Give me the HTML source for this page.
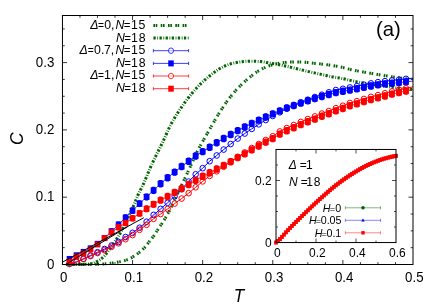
<!DOCTYPE html>
<html><head><meta charset="utf-8"><title>Specific heat C(T)</title>
<style>html,body{margin:0;padding:0;background:#fff;}body{width:436px;height:305px;overflow:hidden;font-family:"Liberation Sans",sans-serif;}</style>
</head><body>
<svg width="436" height="305" viewBox="0 0 436 305" style="display:block;will-change:transform">
<rect width="436" height="305" fill="#fff"/>
<g font-family="Liberation Sans, sans-serif" fill="#000">
<path d="M65.96,264.50 L67.12,264.50 L68.28,264.50 L69.44,264.50 L70.60,264.50 L71.76,264.49 L72.92,264.49 L74.08,264.49 L75.24,264.48 L76.40,264.48 L77.56,264.48 L78.72,264.47 L79.88,264.46 L81.04,264.46 L82.21,264.45 L83.37,264.44 L84.53,264.43 L85.69,264.43 L86.85,264.42 L88.01,264.41 L89.17,264.40 L90.33,264.38 L91.49,264.37 L92.65,264.36 L93.81,264.35 L94.97,264.33 L96.13,264.32 L97.29,264.30 L98.45,264.28 L99.62,264.23 L100.78,264.17 L101.94,264.09 L103.10,264.00 L104.26,263.90 L105.42,263.80 L106.58,263.70 L107.74,263.59 L108.90,263.47 L110.06,263.33 L111.22,263.19 L112.38,263.03 L113.54,262.86 L114.70,262.68 L115.86,262.49 L117.03,262.29 L118.19,262.08 L119.35,261.85 L120.51,261.60 L121.67,261.33 L122.83,261.04 L123.99,260.72 L125.15,260.38 L126.31,260.00 L127.47,259.60 L128.63,259.17 L129.79,258.67 L130.95,258.06 L132.11,257.36 L133.28,256.61 L134.44,255.83 L135.60,255.04 L136.76,254.25 L137.92,253.43 L139.08,252.56 L140.24,251.64 L141.40,250.66 L142.56,249.59 L143.72,248.44 L144.88,247.21 L146.04,245.87 L147.20,244.38 L148.36,242.82 L149.52,241.25 L150.69,239.76 L151.85,238.33 L153.01,236.89 L154.17,235.38 L155.33,233.71 L156.49,231.80 L157.65,229.85 L158.81,228.06 L159.97,226.42 L161.13,224.76 L162.29,222.98 L163.45,221.15 L164.61,219.26 L165.77,217.30 L166.94,215.27 L168.10,213.14 L169.26,210.94 L170.42,208.67 L171.58,206.33 L172.74,203.95 L173.90,201.53 L175.06,199.08 L176.22,196.61 L177.38,194.13 L178.54,191.65 L179.70,189.17 L180.86,186.71 L182.02,184.28 L183.18,181.84 L184.35,179.40 L185.51,176.94 L186.67,174.47 L187.83,172.00 L188.99,169.51 L190.15,167.00 L191.31,164.44 L192.47,161.82 L193.63,159.19 L194.79,156.58 L195.95,154.05 L197.11,151.64 L198.27,149.37 L199.43,147.22 L200.59,145.14 L201.76,143.12 L202.92,141.10 L204.08,139.07 L205.24,137.01 L206.40,134.97 L207.56,132.93 L208.72,130.89 L209.88,128.87 L211.04,126.86 L212.20,124.87 L213.36,122.89 L214.52,120.90 L215.68,118.92 L216.84,116.96 L218.01,115.02 L219.17,113.13 L220.33,111.29 L221.49,109.50 L222.65,107.74 L223.81,106.00 L224.97,104.29 L226.13,102.61 L227.29,100.98 L228.45,99.39 L229.61,97.86 L230.77,96.38 L231.93,94.95 L233.09,93.56 L234.25,92.20 L235.42,90.88 L236.58,89.59 L237.74,88.34 L238.90,87.13 L240.06,85.95 L241.22,84.81 L242.38,83.69 L243.54,82.61 L244.70,81.55 L245.86,80.52 L247.02,79.52 L248.18,78.55 L249.34,77.60 L250.50,76.68 L251.66,75.78 L252.83,74.88 L253.99,74.00 L255.15,73.15 L256.31,72.33 L257.47,71.54 L258.63,70.81 L259.79,70.13 L260.95,69.50 L262.11,68.89 L263.27,68.30 L264.43,67.74 L265.59,67.20 L266.75,66.70 L267.91,66.24 L269.08,65.81 L270.24,65.43 L271.40,65.08 L272.56,64.75 L273.72,64.43 L274.88,64.13 L276.04,63.86 L277.20,63.60 L278.36,63.37 L279.52,63.17 L280.68,63.00 L281.84,62.84 L283.00,62.68 L284.16,62.52 L285.32,62.38 L286.49,62.25 L287.65,62.14 L288.81,62.06 L289.97,62.01 L291.13,61.99 L292.29,61.99 L293.45,61.99 L294.61,61.99 L295.77,61.99 L296.93,61.99 L298.09,61.99 L299.25,61.99 L300.41,61.99 L301.57,62.00 L302.74,62.03 L303.90,62.11 L305.06,62.22 L306.22,62.35 L307.38,62.49 L308.54,62.64 L309.70,62.79 L310.86,62.93 L312.02,63.05 L313.18,63.17 L314.34,63.28 L315.50,63.40 L316.66,63.51 L317.82,63.63 L318.98,63.75 L320.15,63.88 L321.31,64.01 L322.47,64.14 L323.63,64.29 L324.79,64.43 L325.95,64.59 L327.11,64.74 L328.27,64.91 L329.43,65.07 L330.59,65.24 L331.75,65.42 L332.91,65.60 L334.07,65.78 L335.23,65.98 L336.39,66.17 L337.56,66.38 L338.72,66.60 L339.88,66.83 L341.04,67.08 L342.20,67.35 L343.36,67.63 L344.52,67.93 L345.68,68.23 L346.84,68.53 L348.00,68.84 L349.16,69.14 L350.32,69.43 L351.48,69.70 L352.64,69.96 L353.81,70.20 L354.97,70.44 L356.13,70.67 L357.29,70.89 L358.45,71.12 L359.61,71.33 L360.77,71.54 L361.93,71.75 L363.09,71.96 L364.25,72.16 L365.41,72.36 L366.57,72.57 L367.73,72.77 L368.89,72.97 L370.05,73.17 L371.22,73.37 L372.38,73.57 L373.54,73.77 L374.70,73.97 L375.86,74.17 L377.02,74.37 L378.18,74.56 L379.34,74.76 L380.50,74.95 L381.66,75.14 L382.82,75.33 L383.98,75.52 L385.14,75.71 L386.30,75.89 L387.46,76.08 L388.63,76.26 L389.79,76.44 L390.95,76.62 L392.11,76.79 L393.27,76.97 L394.43,77.14 L395.59,77.32 L396.75,77.49 L397.91,77.66 L399.07,77.83 L400.23,78.00 L401.39,78.17 L402.55,78.33 L403.71,78.50 L404.88,78.66 L406.04,78.82 L407.20,78.98 L408.36,79.14 L409.52,79.30 L410.68,79.45 L411.84,79.61 L413.00,79.76" fill="none" stroke="#006400" stroke-width="3.0" stroke-dasharray="1.6 0.7 1.6 3.4"/>
<path d="M65.96,264.50 L67.12,264.50 L68.28,264.50 L69.44,264.49 L70.60,264.49 L71.76,264.49 L72.92,264.48 L74.08,264.47 L75.24,264.46 L76.40,264.45 L77.56,264.44 L78.72,264.43 L79.88,264.42 L81.04,264.40 L82.21,264.38 L83.37,264.37 L84.53,264.34 L85.69,264.29 L86.85,264.21 L88.01,264.11 L89.17,263.99 L90.33,263.84 L91.49,263.67 L92.65,263.48 L93.81,263.11 L94.97,262.54 L96.13,261.90 L97.29,261.28 L98.45,260.61 L99.62,259.88 L100.78,259.09 L101.94,258.21 L103.10,257.20 L104.26,256.02 L105.42,254.73 L106.58,253.36 L107.74,251.87 L108.90,250.25 L110.06,248.57 L111.22,246.86 L112.38,245.16 L113.54,243.50 L114.70,241.83 L115.86,240.14 L117.03,238.40 L118.19,236.60 L119.35,234.71 L120.51,232.70 L121.67,230.58 L122.83,228.38 L123.99,226.11 L125.15,223.80 L126.31,221.44 L127.47,219.04 L128.63,216.58 L129.79,214.08 L130.95,211.54 L132.11,208.96 L133.28,206.34 L134.44,203.69 L135.60,200.90 L136.76,197.98 L137.92,195.15 L139.08,192.63 L140.24,190.35 L141.40,188.15 L142.56,185.86 L143.72,183.36 L144.88,180.70 L146.04,177.94 L147.20,175.13 L148.36,172.32 L149.52,169.55 L150.69,166.87 L151.85,164.31 L153.01,161.83 L154.17,159.41 L155.33,157.03 L156.49,154.68 L157.65,152.35 L158.81,150.03 L159.97,147.70 L161.13,145.36 L162.29,142.98 L163.45,140.56 L164.61,138.08 L165.77,135.48 L166.94,132.83 L168.10,130.20 L169.26,127.67 L170.42,125.33 L171.58,123.16 L172.74,121.08 L173.90,119.08 L175.06,117.14 L176.22,115.27 L177.38,113.44 L178.54,111.65 L179.70,109.89 L180.86,108.16 L182.02,106.47 L183.18,104.80 L184.35,103.17 L185.51,101.58 L186.67,100.02 L187.83,98.50 L188.99,97.01 L190.15,95.56 L191.31,94.14 L192.47,92.74 L193.63,91.36 L194.79,90.02 L195.95,88.70 L197.11,87.42 L198.27,86.18 L199.43,84.99 L200.59,83.83 L201.76,82.72 L202.92,81.63 L204.08,80.58 L205.24,79.56 L206.40,78.56 L207.56,77.59 L208.72,76.64 L209.88,75.71 L211.04,74.80 L212.20,73.90 L213.36,73.00 L214.52,72.11 L215.68,71.26 L216.84,70.43 L218.01,69.66 L219.17,68.93 L220.33,68.27 L221.49,67.65 L222.65,67.05 L223.81,66.48 L224.97,65.93 L226.13,65.42 L227.29,64.94 L228.45,64.51 L229.61,64.13 L230.77,63.81 L231.93,63.51 L233.09,63.23 L234.25,62.97 L235.42,62.74 L236.58,62.52 L237.74,62.32 L238.90,62.14 L240.06,61.99 L241.22,61.86 L242.38,61.72 L243.54,61.59 L244.70,61.47 L245.86,61.36 L247.02,61.27 L248.18,61.19 L249.34,61.14 L250.50,61.12 L251.66,61.13 L252.83,61.15 L253.99,61.18 L255.15,61.23 L256.31,61.29 L257.47,61.36 L258.63,61.43 L259.79,61.51 L260.95,61.60 L262.11,61.74 L263.27,61.91 L264.43,62.11 L265.59,62.32 L266.75,62.55 L267.91,62.77 L269.08,63.00 L270.24,63.20 L271.40,63.40 L272.56,63.59 L273.72,63.79 L274.88,63.98 L276.04,64.18 L277.20,64.39 L278.36,64.59 L279.52,64.81 L280.68,65.03 L281.84,65.26 L283.00,65.51 L284.16,65.75 L285.32,66.01 L286.49,66.27 L287.65,66.53 L288.81,66.80 L289.97,67.07 L291.13,67.34 L292.29,67.61 L293.45,67.89 L294.61,68.17 L295.77,68.45 L296.93,68.74 L298.09,69.03 L299.25,69.31 L300.41,69.60 L301.57,69.88 L302.74,70.16 L303.90,70.45 L305.06,70.74 L306.22,71.02 L307.38,71.31 L308.54,71.59 L309.70,71.86 L310.86,72.13 L312.02,72.40 L313.18,72.65 L314.34,72.91 L315.50,73.15 L316.66,73.40 L317.82,73.64 L318.98,73.88 L320.15,74.13 L321.31,74.38 L322.47,74.63 L323.63,74.89 L324.79,75.16 L325.95,75.43 L327.11,75.70 L328.27,75.97 L329.43,76.23 L330.59,76.47 L331.75,76.71 L332.91,76.92 L334.07,77.12 L335.23,77.30 L336.39,77.48 L337.56,77.66 L338.72,77.86 L339.88,78.06 L341.04,78.29 L342.20,78.53 L343.36,78.78 L344.52,79.03 L345.68,79.29 L346.84,79.56 L348.00,79.83 L349.16,80.09 L350.32,80.36 L351.48,80.61 L352.64,80.86 L353.81,81.11 L354.97,81.36 L356.13,81.60 L357.29,81.85 L358.45,82.09 L359.61,82.32 L360.77,82.55 L361.93,82.76 L363.09,82.96 L364.25,83.16 L365.41,83.36 L366.57,83.55 L367.73,83.74 L368.89,83.93 L370.05,84.11 L371.22,84.29 L372.38,84.47 L373.54,84.65 L374.70,84.82 L375.86,84.99 L377.02,85.16 L378.18,85.33 L379.34,85.49 L380.50,85.66 L381.66,85.82 L382.82,85.98 L383.98,86.14 L385.14,86.30 L386.30,86.45 L387.46,86.61 L388.63,86.76 L389.79,86.91 L390.95,87.07 L392.11,87.22 L393.27,87.37 L394.43,87.52 L395.59,87.67 L396.75,87.82 L397.91,87.96 L399.07,88.11 L400.23,88.25 L401.39,88.39 L402.55,88.53 L403.71,88.67 L404.88,88.81 L406.04,88.94 L407.20,89.08 L408.36,89.21 L409.52,89.34 L410.68,89.47 L411.84,89.60 L413.00,89.72" fill="none" stroke="#006400" stroke-width="3.0" stroke-dasharray="2.3 1.6 0.8 1.4"/>
<path d="M69.46,263.83 L76.47,261.81 L83.48,258.71 L90.49,255.48 L97.50,252.25 L104.52,249.02 L111.53,245.52 L118.54,241.95 L125.55,237.04 L132.56,232.87 L139.57,227.75 L146.58,221.76 L153.59,214.90 L160.60,208.91 L167.62,202.79 L174.63,196.19 L181.64,189.12 L188.65,181.59 L195.66,174.32 L202.67,168.19 L209.68,161.19 L216.69,155.47 L223.70,149.55 L230.71,144.03 L237.73,138.58 L244.74,133.53 L251.75,128.89 L258.76,124.31 L265.77,120.01 L272.78,115.97 L279.79,112.27 L286.80,108.70 L293.81,105.34 L300.82,102.35 L307.83,99.70 L314.85,97.05 L321.86,94.74 L328.87,92.29 L335.88,90.05 L342.89,88.81 L349.90,87.46 L356.91,86.12 L363.92,84.71 L370.93,83.38 L377.94,82.17 L384.96,81.17 L391.97,80.44 L398.98,79.64 L405.99,78.91 L413.00,78.18" fill="none" stroke="#0000ff" stroke-width="1.0"/>
<g fill="none" stroke="#0000ff" stroke-width="1.0"><ellipse cx="69.46" cy="263.83" rx="2.75" ry="2.85"/><ellipse cx="76.47" cy="261.81" rx="2.75" ry="2.85"/><ellipse cx="83.48" cy="258.71" rx="2.75" ry="2.85"/><ellipse cx="90.49" cy="255.48" rx="2.75" ry="2.85"/><ellipse cx="97.50" cy="252.25" rx="2.75" ry="2.85"/><ellipse cx="104.52" cy="249.02" rx="2.75" ry="2.85"/><ellipse cx="111.53" cy="245.52" rx="2.75" ry="2.85"/><ellipse cx="118.54" cy="241.95" rx="2.75" ry="2.85"/><ellipse cx="125.55" cy="237.04" rx="2.75" ry="2.85"/><ellipse cx="132.56" cy="232.87" rx="2.75" ry="2.85"/><ellipse cx="139.57" cy="227.75" rx="2.75" ry="2.85"/><ellipse cx="146.58" cy="221.76" rx="2.75" ry="2.85"/><ellipse cx="153.59" cy="214.90" rx="2.75" ry="2.85"/><ellipse cx="160.60" cy="208.91" rx="2.75" ry="2.85"/><ellipse cx="167.62" cy="202.79" rx="2.75" ry="2.85"/><ellipse cx="174.63" cy="196.19" rx="2.75" ry="2.85"/><ellipse cx="181.64" cy="189.12" rx="2.75" ry="2.85"/><ellipse cx="188.65" cy="181.59" rx="2.75" ry="2.85"/><ellipse cx="195.66" cy="174.32" rx="2.75" ry="2.85"/><ellipse cx="202.67" cy="168.19" rx="2.75" ry="2.85"/><ellipse cx="209.68" cy="161.19" rx="2.75" ry="2.85"/><ellipse cx="216.69" cy="155.47" rx="2.75" ry="2.85"/><ellipse cx="223.70" cy="149.55" rx="2.75" ry="2.85"/><ellipse cx="230.71" cy="144.03" rx="2.75" ry="2.85"/><ellipse cx="237.73" cy="138.58" rx="2.75" ry="2.85"/><ellipse cx="244.74" cy="133.53" rx="2.75" ry="2.85"/><ellipse cx="251.75" cy="128.89" rx="2.75" ry="2.85"/><ellipse cx="258.76" cy="124.31" rx="2.75" ry="2.85"/><ellipse cx="265.77" cy="120.01" rx="2.75" ry="2.85"/><ellipse cx="272.78" cy="115.97" rx="2.75" ry="2.85"/><ellipse cx="279.79" cy="112.27" rx="2.75" ry="2.85"/><ellipse cx="286.80" cy="108.70" rx="2.75" ry="2.85"/><ellipse cx="293.81" cy="105.34" rx="2.75" ry="2.85"/><ellipse cx="300.82" cy="102.35" rx="2.75" ry="2.85"/><ellipse cx="307.83" cy="99.70" rx="2.75" ry="2.85"/><ellipse cx="314.85" cy="97.05" rx="2.75" ry="2.85"/><ellipse cx="321.86" cy="94.74" rx="2.75" ry="2.85"/><ellipse cx="328.87" cy="92.29" rx="2.75" ry="2.85"/><ellipse cx="335.88" cy="90.05" rx="2.75" ry="2.85"/><ellipse cx="342.89" cy="88.81" rx="2.75" ry="2.85"/><ellipse cx="349.90" cy="87.46" rx="2.75" ry="2.85"/><ellipse cx="356.91" cy="86.12" rx="2.75" ry="2.85"/><ellipse cx="363.92" cy="84.71" rx="2.75" ry="2.85"/><ellipse cx="370.93" cy="83.38" rx="2.75" ry="2.85"/><ellipse cx="377.94" cy="82.17" rx="2.75" ry="2.85"/><ellipse cx="384.96" cy="81.17" rx="2.75" ry="2.85"/><ellipse cx="391.97" cy="80.44" rx="2.75" ry="2.85"/><ellipse cx="398.98" cy="79.64" rx="2.75" ry="2.85"/><ellipse cx="405.99" cy="78.91" rx="2.75" ry="2.85"/></g>
<path d="M69.46,258.94 L76.47,255.24 L83.48,251.88 L90.49,248.31 L97.50,243.80 L104.52,238.08 L111.53,231.35 L118.54,224.62 L125.55,217.49 L132.56,210.62 L139.57,203.69 L146.58,196.89 L153.59,190.30 L160.60,183.70 L167.62,177.71 L174.63,172.13 L181.64,166.54 L188.65,161.22 L195.66,155.97 L202.67,151.60 L209.68,147.29 L216.69,142.72 L223.70,138.48 L230.71,134.51 L237.73,130.60 L244.74,126.97 L251.75,123.47 L258.76,120.17 L265.77,117.01 L272.78,113.84 L279.79,110.82 L286.80,107.85 L293.81,105.50 L300.82,103.08 L307.83,100.79 L314.85,98.50 L321.86,96.45 L328.87,94.53 L335.88,92.68 L342.89,91.29 L349.90,90.08 L356.91,88.80 L363.92,87.32 L370.93,86.06 L377.94,84.86 L384.96,83.94 L391.97,83.28 L398.98,82.56 L405.99,81.83 L413.00,81.11" fill="none" stroke="#0000ff" stroke-width="0.75"/>
<g fill="#0000ff"><rect x="66.71" y="255.97" width="5.50" height="5.94" rx="0.00"/><rect x="73.72" y="252.27" width="5.50" height="5.94" rx="0.00"/><rect x="80.73" y="248.91" width="5.50" height="5.94" rx="0.00"/><rect x="87.74" y="245.34" width="5.50" height="5.94" rx="0.00"/><rect x="94.75" y="240.83" width="5.50" height="5.94" rx="0.00"/><rect x="101.77" y="235.11" width="5.50" height="5.94" rx="0.00"/><rect x="108.75" y="228.35" width="5.55" height="5.99" rx="0.10"/><rect x="109.83" y="228.29" width="3.4" height="6.12" rx="0.6"/><rect x="115.74" y="221.60" width="5.60" height="6.05" rx="0.20"/><rect x="116.84" y="221.47" width="3.4" height="6.30" rx="0.6"/><rect x="122.72" y="214.44" width="5.65" height="6.10" rx="0.30"/><rect x="123.85" y="214.25" width="3.4" height="6.48" rx="0.6"/><rect x="129.71" y="207.54" width="5.70" height="6.16" rx="0.40"/><rect x="130.86" y="207.29" width="3.4" height="6.66" rx="0.6"/><rect x="136.70" y="200.58" width="5.75" height="6.21" rx="0.50"/><rect x="137.87" y="200.27" width="3.4" height="6.84" rx="0.6"/><rect x="143.68" y="193.76" width="5.80" height="6.26" rx="0.60"/><rect x="144.88" y="193.39" width="3.4" height="7.01" rx="0.6"/><rect x="150.67" y="187.14" width="5.85" height="6.32" rx="0.70"/><rect x="151.89" y="186.70" width="3.4" height="7.19" rx="0.6"/><rect x="157.65" y="180.52" width="5.90" height="6.37" rx="0.80"/><rect x="158.90" y="180.02" width="3.4" height="7.37" rx="0.6"/><rect x="164.67" y="174.53" width="5.90" height="6.37" rx="0.80"/><rect x="165.92" y="174.03" width="3.4" height="7.37" rx="0.6"/><rect x="171.68" y="168.94" width="5.90" height="6.37" rx="0.80"/><rect x="172.93" y="168.44" width="3.4" height="7.37" rx="0.6"/><rect x="178.69" y="163.35" width="5.90" height="6.37" rx="0.80"/><rect x="179.94" y="162.85" width="3.4" height="7.37" rx="0.6"/><rect x="185.70" y="158.04" width="5.90" height="6.37" rx="0.80"/><rect x="186.95" y="157.54" width="3.4" height="7.37" rx="0.6"/><rect x="192.71" y="152.79" width="5.90" height="6.37" rx="0.80"/><rect x="193.96" y="152.29" width="3.4" height="7.37" rx="0.6"/><rect x="199.72" y="148.41" width="5.90" height="6.37" rx="0.80"/><rect x="200.97" y="147.91" width="3.4" height="7.37" rx="0.6"/><rect x="206.73" y="144.11" width="5.90" height="6.37" rx="0.80"/><rect x="207.98" y="143.61" width="3.4" height="7.37" rx="0.6"/><rect x="213.74" y="139.53" width="5.90" height="6.37" rx="0.80"/><rect x="214.99" y="139.03" width="3.4" height="7.37" rx="0.6"/><rect x="220.75" y="135.29" width="5.90" height="6.37" rx="0.80"/><rect x="222.00" y="134.79" width="3.4" height="7.37" rx="0.6"/><rect x="227.76" y="131.32" width="5.90" height="6.37" rx="0.80"/><rect x="229.01" y="130.82" width="3.4" height="7.37" rx="0.6"/><rect x="234.78" y="127.42" width="5.90" height="6.37" rx="0.80"/><rect x="236.03" y="126.92" width="3.4" height="7.37" rx="0.6"/><rect x="241.79" y="123.78" width="5.90" height="6.37" rx="0.80"/><rect x="243.04" y="123.28" width="3.4" height="7.37" rx="0.6"/><rect x="248.80" y="120.28" width="5.90" height="6.37" rx="0.80"/><rect x="250.05" y="119.78" width="3.4" height="7.37" rx="0.6"/><rect x="255.81" y="116.98" width="5.90" height="6.37" rx="0.80"/><rect x="257.06" y="116.48" width="3.4" height="7.37" rx="0.6"/><rect x="262.82" y="113.82" width="5.90" height="6.37" rx="0.80"/><rect x="264.07" y="113.32" width="3.4" height="7.37" rx="0.6"/><rect x="269.83" y="110.66" width="5.90" height="6.37" rx="0.80"/><rect x="271.08" y="110.16" width="3.4" height="7.37" rx="0.6"/><rect x="276.84" y="107.63" width="5.90" height="6.37" rx="0.80"/><rect x="278.09" y="107.13" width="3.4" height="7.37" rx="0.6"/><rect x="283.85" y="104.67" width="5.90" height="6.37" rx="0.80"/><rect x="285.10" y="104.17" width="3.4" height="7.37" rx="0.6"/><rect x="290.86" y="102.31" width="5.90" height="6.37" rx="0.80"/><rect x="292.11" y="101.81" width="3.4" height="7.37" rx="0.6"/><rect x="297.87" y="99.89" width="5.90" height="6.37" rx="0.80"/><rect x="299.12" y="99.39" width="3.4" height="7.37" rx="0.6"/><rect x="304.88" y="97.60" width="5.90" height="6.37" rx="0.80"/><rect x="306.13" y="97.10" width="3.4" height="7.37" rx="0.6"/><rect x="311.90" y="95.31" width="5.90" height="6.37" rx="0.80"/><rect x="313.15" y="94.81" width="3.4" height="7.37" rx="0.6"/><rect x="318.91" y="93.26" width="5.90" height="6.37" rx="0.80"/><rect x="320.16" y="92.76" width="3.4" height="7.37" rx="0.6"/><rect x="325.92" y="91.34" width="5.90" height="6.37" rx="0.80"/><rect x="327.17" y="90.84" width="3.4" height="7.37" rx="0.6"/><rect x="332.93" y="89.49" width="5.90" height="6.37" rx="0.80"/><rect x="334.18" y="88.99" width="3.4" height="7.37" rx="0.6"/><rect x="339.94" y="88.11" width="5.90" height="6.37" rx="0.80"/><rect x="341.19" y="87.61" width="3.4" height="7.37" rx="0.6"/><rect x="346.95" y="86.90" width="5.90" height="6.37" rx="0.80"/><rect x="348.20" y="86.40" width="3.4" height="7.37" rx="0.6"/><rect x="353.96" y="85.62" width="5.90" height="6.37" rx="0.80"/><rect x="355.21" y="85.12" width="3.4" height="7.37" rx="0.6"/><rect x="360.97" y="84.14" width="5.90" height="6.37" rx="0.80"/><rect x="362.22" y="83.64" width="3.4" height="7.37" rx="0.6"/><rect x="367.98" y="82.87" width="5.90" height="6.37" rx="0.80"/><rect x="369.23" y="82.37" width="3.4" height="7.37" rx="0.6"/><rect x="375.00" y="81.68" width="5.90" height="6.37" rx="0.80"/><rect x="376.25" y="81.18" width="3.4" height="7.37" rx="0.6"/><rect x="382.01" y="80.75" width="5.90" height="6.37" rx="0.80"/><rect x="383.26" y="80.25" width="3.4" height="7.37" rx="0.6"/><rect x="389.02" y="80.09" width="5.90" height="6.37" rx="0.80"/><rect x="390.27" y="79.59" width="3.4" height="7.37" rx="0.6"/><rect x="396.03" y="79.37" width="5.90" height="6.37" rx="0.80"/><rect x="397.28" y="78.87" width="3.4" height="7.37" rx="0.6"/><rect x="403.04" y="78.64" width="5.90" height="6.37" rx="0.80"/><rect x="404.29" y="78.14" width="3.4" height="7.37" rx="0.6"/></g>
<path d="M69.46,263.83 L76.47,262.14 L83.48,259.12 L90.49,256.09 L97.50,253.06 L104.52,250.17 L111.53,246.80 L118.54,243.30 L125.55,239.20 L132.56,235.09 L139.57,229.77 L146.58,224.79 L153.59,218.87 L160.60,214.03 L167.62,208.91 L174.63,203.59 L181.64,198.55 L188.65,193.16 L195.66,187.31 L202.67,181.38 L209.68,175.87 L216.69,171.29 L223.70,166.71 L230.71,161.53 L237.73,156.82 L244.74,152.45 L251.75,148.07 L258.76,144.03 L265.77,140.00 L272.78,136.29 L279.79,131.41 L286.80,128.11 L293.81,125.02 L300.82,121.92 L307.83,119.09 L314.85,116.40 L321.86,113.54 L328.87,111.08 L335.88,108.15 L342.89,105.76 L349.90,103.01 L356.91,101.19 L363.92,98.97 L370.93,96.88 L377.94,95.13 L384.96,93.31 L391.97,91.43 L398.98,89.81 L405.99,88.33 L413.00,86.85" fill="none" stroke="#ff0000" stroke-width="1.0"/>
<g fill="none" stroke="#ff0000" stroke-width="1.0"><ellipse cx="69.46" cy="263.83" rx="2.75" ry="2.85"/><ellipse cx="76.47" cy="262.14" rx="2.75" ry="2.85"/><ellipse cx="83.48" cy="259.12" rx="2.75" ry="2.85"/><ellipse cx="90.49" cy="256.09" rx="2.75" ry="2.85"/><ellipse cx="97.50" cy="253.06" rx="2.75" ry="2.85"/><ellipse cx="104.52" cy="250.17" rx="2.75" ry="2.85"/><ellipse cx="111.53" cy="246.80" rx="2.75" ry="2.85"/><ellipse cx="118.54" cy="243.30" rx="2.75" ry="2.85"/><ellipse cx="125.55" cy="239.20" rx="2.75" ry="2.85"/><ellipse cx="132.56" cy="235.09" rx="2.75" ry="2.85"/><ellipse cx="139.57" cy="229.77" rx="2.75" ry="2.85"/><ellipse cx="146.58" cy="224.79" rx="2.75" ry="2.85"/><ellipse cx="153.59" cy="218.87" rx="2.75" ry="2.85"/><ellipse cx="160.60" cy="214.03" rx="2.75" ry="2.85"/><ellipse cx="167.62" cy="208.91" rx="2.75" ry="2.85"/><ellipse cx="174.63" cy="203.59" rx="2.75" ry="2.85"/><ellipse cx="181.64" cy="198.55" rx="2.75" ry="2.85"/><ellipse cx="188.65" cy="193.16" rx="2.75" ry="2.85"/><ellipse cx="195.66" cy="187.31" rx="2.75" ry="2.85"/><ellipse cx="202.67" cy="181.38" rx="2.75" ry="2.85"/><ellipse cx="209.68" cy="175.87" rx="2.75" ry="2.85"/><ellipse cx="216.69" cy="171.29" rx="2.75" ry="2.85"/><ellipse cx="223.70" cy="166.71" rx="2.75" ry="2.85"/><ellipse cx="230.71" cy="161.53" rx="2.75" ry="2.85"/><ellipse cx="237.73" cy="156.82" rx="2.75" ry="2.85"/><ellipse cx="244.74" cy="152.45" rx="2.75" ry="2.85"/><ellipse cx="251.75" cy="148.07" rx="2.75" ry="2.85"/><ellipse cx="258.76" cy="144.03" rx="2.75" ry="2.85"/><ellipse cx="265.77" cy="140.00" rx="2.75" ry="2.85"/><ellipse cx="272.78" cy="136.29" rx="2.75" ry="2.85"/><ellipse cx="279.79" cy="131.41" rx="2.75" ry="2.85"/><ellipse cx="286.80" cy="128.11" rx="2.75" ry="2.85"/><ellipse cx="293.81" cy="125.02" rx="2.75" ry="2.85"/><ellipse cx="300.82" cy="121.92" rx="2.75" ry="2.85"/><ellipse cx="307.83" cy="119.09" rx="2.75" ry="2.85"/><ellipse cx="314.85" cy="116.40" rx="2.75" ry="2.85"/><ellipse cx="321.86" cy="113.54" rx="2.75" ry="2.85"/><ellipse cx="328.87" cy="111.08" rx="2.75" ry="2.85"/><ellipse cx="335.88" cy="108.15" rx="2.75" ry="2.85"/><ellipse cx="342.89" cy="105.76" rx="2.75" ry="2.85"/><ellipse cx="349.90" cy="103.01" rx="2.75" ry="2.85"/><ellipse cx="356.91" cy="101.19" rx="2.75" ry="2.85"/><ellipse cx="363.92" cy="98.97" rx="2.75" ry="2.85"/><ellipse cx="370.93" cy="96.88" rx="2.75" ry="2.85"/><ellipse cx="377.94" cy="95.13" rx="2.75" ry="2.85"/><ellipse cx="384.96" cy="93.31" rx="2.75" ry="2.85"/><ellipse cx="391.97" cy="91.43" rx="2.75" ry="2.85"/><ellipse cx="398.98" cy="89.81" rx="2.75" ry="2.85"/><ellipse cx="405.99" cy="88.33" rx="2.75" ry="2.85"/></g>
<path d="M69.46,261.63 L76.47,256.52 L83.48,253.42 L90.49,249.39 L97.50,244.47 L104.52,238.08 L111.53,232.29 L118.54,227.31 L125.55,222.94 L132.56,218.23 L139.57,213.38 L146.58,208.80 L153.59,204.23 L160.60,200.19 L167.62,196.49 L174.63,192.32 L181.64,188.61 L188.65,184.51 L195.66,180.34 L202.67,176.30 L209.68,172.73 L216.69,169.03 L223.70,165.40 L230.71,161.69 L237.73,157.66 L244.74,153.82 L251.75,149.85 L258.76,146.01 L265.77,142.18 L272.78,138.61 L279.79,134.10 L286.80,130.80 L293.81,127.71 L300.82,124.61 L307.83,121.79 L314.85,119.09 L321.86,116.23 L328.87,113.78 L335.88,110.85 L342.89,108.46 L349.90,105.70 L356.91,103.88 L363.92,101.66 L370.93,99.57 L377.94,97.82 L384.96,96.01 L391.97,94.12 L398.98,92.51 L405.99,91.03 L413.00,89.55" fill="none" stroke="#ff0000" stroke-width="0.75"/>
<g fill="#ff0000"><rect x="66.71" y="258.66" width="5.50" height="5.94" rx="0.00"/><rect x="73.72" y="253.55" width="5.50" height="5.94" rx="0.00"/><rect x="80.73" y="250.45" width="5.50" height="5.94" rx="0.00"/><rect x="87.74" y="246.42" width="5.50" height="5.94" rx="0.00"/><rect x="94.75" y="241.50" width="5.50" height="5.94" rx="0.00"/><rect x="101.77" y="235.11" width="5.50" height="5.94" rx="0.00"/><rect x="108.75" y="229.30" width="5.55" height="5.99" rx="0.10"/><rect x="109.83" y="229.23" width="3.4" height="6.12" rx="0.6"/><rect x="115.74" y="224.29" width="5.60" height="6.05" rx="0.20"/><rect x="116.84" y="224.16" width="3.4" height="6.30" rx="0.6"/><rect x="122.72" y="219.89" width="5.65" height="6.10" rx="0.30"/><rect x="123.85" y="219.70" width="3.4" height="6.48" rx="0.6"/><rect x="129.71" y="215.15" width="5.70" height="6.16" rx="0.40"/><rect x="130.86" y="214.90" width="3.4" height="6.66" rx="0.6"/><rect x="136.70" y="210.28" width="5.75" height="6.21" rx="0.50"/><rect x="137.87" y="209.96" width="3.4" height="6.84" rx="0.6"/><rect x="143.68" y="205.67" width="5.80" height="6.26" rx="0.60"/><rect x="144.88" y="205.30" width="3.4" height="7.01" rx="0.6"/><rect x="150.67" y="201.07" width="5.85" height="6.32" rx="0.70"/><rect x="151.89" y="200.63" width="3.4" height="7.19" rx="0.6"/><rect x="157.65" y="197.00" width="5.90" height="6.37" rx="0.80"/><rect x="158.90" y="196.50" width="3.4" height="7.37" rx="0.6"/><rect x="164.67" y="193.30" width="5.90" height="6.37" rx="0.80"/><rect x="165.92" y="192.80" width="3.4" height="7.37" rx="0.6"/><rect x="171.68" y="189.13" width="5.90" height="6.37" rx="0.80"/><rect x="172.93" y="188.63" width="3.4" height="7.37" rx="0.6"/><rect x="178.69" y="185.43" width="5.90" height="6.37" rx="0.80"/><rect x="179.94" y="184.93" width="3.4" height="7.37" rx="0.6"/><rect x="185.70" y="181.32" width="5.90" height="6.37" rx="0.80"/><rect x="186.95" y="180.82" width="3.4" height="7.37" rx="0.6"/><rect x="192.71" y="177.15" width="5.90" height="6.37" rx="0.80"/><rect x="193.96" y="176.65" width="3.4" height="7.37" rx="0.6"/><rect x="199.72" y="173.11" width="5.90" height="6.37" rx="0.80"/><rect x="200.97" y="172.61" width="3.4" height="7.37" rx="0.6"/><rect x="206.73" y="169.55" width="5.90" height="6.37" rx="0.80"/><rect x="207.98" y="169.05" width="3.4" height="7.37" rx="0.6"/><rect x="213.74" y="165.84" width="5.90" height="6.37" rx="0.80"/><rect x="214.99" y="165.34" width="3.4" height="7.37" rx="0.6"/><rect x="220.75" y="162.21" width="5.90" height="6.37" rx="0.80"/><rect x="222.00" y="161.71" width="3.4" height="7.37" rx="0.6"/><rect x="227.76" y="158.51" width="5.90" height="6.37" rx="0.80"/><rect x="229.01" y="158.01" width="3.4" height="7.37" rx="0.6"/><rect x="234.78" y="154.47" width="5.90" height="6.37" rx="0.80"/><rect x="236.03" y="153.97" width="3.4" height="7.37" rx="0.6"/><rect x="241.79" y="150.63" width="5.90" height="6.37" rx="0.80"/><rect x="243.04" y="150.13" width="3.4" height="7.37" rx="0.6"/><rect x="248.80" y="146.66" width="5.90" height="6.37" rx="0.80"/><rect x="250.05" y="146.16" width="3.4" height="7.37" rx="0.6"/><rect x="255.81" y="142.83" width="5.90" height="6.37" rx="0.80"/><rect x="257.06" y="142.33" width="3.4" height="7.37" rx="0.6"/><rect x="262.82" y="138.99" width="5.90" height="6.37" rx="0.80"/><rect x="264.07" y="138.49" width="3.4" height="7.37" rx="0.6"/><rect x="269.83" y="135.42" width="5.90" height="6.37" rx="0.80"/><rect x="271.08" y="134.92" width="3.4" height="7.37" rx="0.6"/><rect x="276.84" y="130.92" width="5.90" height="6.37" rx="0.80"/><rect x="278.09" y="130.42" width="3.4" height="7.37" rx="0.6"/><rect x="283.85" y="127.62" width="5.90" height="6.37" rx="0.80"/><rect x="285.10" y="127.12" width="3.4" height="7.37" rx="0.6"/><rect x="290.86" y="124.52" width="5.90" height="6.37" rx="0.80"/><rect x="292.11" y="124.02" width="3.4" height="7.37" rx="0.6"/><rect x="297.87" y="121.43" width="5.90" height="6.37" rx="0.80"/><rect x="299.12" y="120.93" width="3.4" height="7.37" rx="0.6"/><rect x="304.88" y="118.60" width="5.90" height="6.37" rx="0.80"/><rect x="306.13" y="118.10" width="3.4" height="7.37" rx="0.6"/><rect x="311.90" y="115.91" width="5.90" height="6.37" rx="0.80"/><rect x="313.15" y="115.41" width="3.4" height="7.37" rx="0.6"/><rect x="318.91" y="113.05" width="5.90" height="6.37" rx="0.80"/><rect x="320.16" y="112.55" width="3.4" height="7.37" rx="0.6"/><rect x="325.92" y="110.59" width="5.90" height="6.37" rx="0.80"/><rect x="327.17" y="110.09" width="3.4" height="7.37" rx="0.6"/><rect x="332.93" y="107.66" width="5.90" height="6.37" rx="0.80"/><rect x="334.18" y="107.16" width="3.4" height="7.37" rx="0.6"/><rect x="339.94" y="105.27" width="5.90" height="6.37" rx="0.80"/><rect x="341.19" y="104.77" width="3.4" height="7.37" rx="0.6"/><rect x="346.95" y="102.51" width="5.90" height="6.37" rx="0.80"/><rect x="348.20" y="102.01" width="3.4" height="7.37" rx="0.6"/><rect x="353.96" y="100.69" width="5.90" height="6.37" rx="0.80"/><rect x="355.21" y="100.19" width="3.4" height="7.37" rx="0.6"/><rect x="360.97" y="98.47" width="5.90" height="6.37" rx="0.80"/><rect x="362.22" y="97.97" width="3.4" height="7.37" rx="0.6"/><rect x="367.98" y="96.39" width="5.90" height="6.37" rx="0.80"/><rect x="369.23" y="95.89" width="3.4" height="7.37" rx="0.6"/><rect x="375.00" y="94.64" width="5.90" height="6.37" rx="0.80"/><rect x="376.25" y="94.14" width="3.4" height="7.37" rx="0.6"/><rect x="382.01" y="92.82" width="5.90" height="6.37" rx="0.80"/><rect x="383.26" y="92.32" width="3.4" height="7.37" rx="0.6"/><rect x="389.02" y="90.94" width="5.90" height="6.37" rx="0.80"/><rect x="390.27" y="90.44" width="3.4" height="7.37" rx="0.6"/><rect x="396.03" y="89.32" width="5.90" height="6.37" rx="0.80"/><rect x="397.28" y="88.82" width="3.4" height="7.37" rx="0.6"/><rect x="403.04" y="87.84" width="5.90" height="6.37" rx="0.80"/><rect x="404.29" y="87.34" width="3.4" height="7.37" rx="0.6"/></g>
<path d="M62.5,262.1 L143.8,217.7 M65.7,264.5 L127.4,226.8" stroke="#000" stroke-width="1" fill="none"/>
<g stroke="#000" stroke-width="1" fill="none">
<rect x="62.45" y="15.5" width="350.55" height="249.0"/>
<path d="M79.98,264.5v-2.3M79.98,15.5v2.3M97.50,264.5v-2.3M97.50,15.5v2.3M115.03,264.5v-2.3M115.03,15.5v2.3M132.56,264.5v-4.5M132.56,15.5v4.5M150.09,264.5v-2.3M150.09,15.5v2.3M167.62,264.5v-2.3M167.62,15.5v2.3M185.14,264.5v-2.3M185.14,15.5v2.3M202.67,264.5v-4.5M202.67,15.5v4.5M220.20,264.5v-2.3M220.20,15.5v2.3M237.73,264.5v-2.3M237.73,15.5v2.3M255.25,264.5v-2.3M255.25,15.5v2.3M272.78,264.5v-4.5M272.78,15.5v4.5M290.31,264.5v-2.3M290.31,15.5v2.3M307.84,264.5v-2.3M307.84,15.5v2.3M325.36,264.5v-2.3M325.36,15.5v2.3M342.89,264.5v-4.5M342.89,15.5v4.5M360.42,264.5v-2.3M360.42,15.5v2.3M377.94,264.5v-2.3M377.94,15.5v2.3M395.47,264.5v-2.3M395.47,15.5v2.3M62.45,247.68h2.3M413.0,247.68h-2.3M62.45,230.85h2.3M413.0,230.85h-2.3M62.45,214.02h2.3M413.0,214.02h-2.3M62.45,197.20h4.5M413.0,197.20h-4.5M62.45,180.38h2.3M413.0,180.38h-2.3M62.45,163.55h2.3M413.0,163.55h-2.3M62.45,146.72h2.3M413.0,146.72h-2.3M62.45,129.90h4.5M413.0,129.90h-4.5M62.45,113.07h2.3M413.0,113.07h-2.3M62.45,96.25h2.3M413.0,96.25h-2.3M62.45,79.42h2.3M413.0,79.42h-2.3M62.45,62.60h4.5M413.0,62.60h-4.5M62.45,45.78h2.3M413.0,45.78h-2.3M62.45,28.95h2.3M413.0,28.95h-2.3" stroke-width="0.8"/>
</g>
<text transform="translate(63.75,281.50) scale(0.93,1)" font-size="14.3" text-anchor="middle">0</text>
<text transform="translate(133.86,281.50) scale(0.93,1)" font-size="14.3" text-anchor="middle">0.1</text>
<text transform="translate(203.97,281.50) scale(0.93,1)" font-size="14.3" text-anchor="middle">0.2</text>
<text transform="translate(274.08,281.50) scale(0.93,1)" font-size="14.3" text-anchor="middle">0.3</text>
<text transform="translate(344.19,281.50) scale(0.93,1)" font-size="14.3" text-anchor="middle">0.4</text>
<text transform="translate(414.30,281.50) scale(0.93,1)" font-size="14.3" text-anchor="middle">0.5</text>
<text transform="translate(54.30,268.70) scale(0.93,1)" font-size="14.3" text-anchor="end">0</text>
<text transform="translate(54.30,201.40) scale(0.93,1)" font-size="14.3" text-anchor="end">0.1</text>
<text transform="translate(54.30,134.10) scale(0.93,1)" font-size="14.3" text-anchor="end">0.2</text>
<text transform="translate(54.30,66.80) scale(0.93,1)" font-size="14.3" text-anchor="end">0.3</text>
<text transform="translate(233.76,301.65) scale(0.9,1)" font-size="19" font-style="italic">T</text>
<text transform="translate(22.7,145.06) rotate(-90) scale(0.94,1)" font-size="18.6" font-style="italic">C</text>
<text transform="translate(375.94,36.20) scale(0.99,1)" font-size="20.5">(a)</text>
<text transform="translate(90.22,28.80) scale(0.94,1)" font-size="13.1" font-style="italic">Δ</text><text transform="translate(98.07,28.80) scale(0.78,0.88)" font-size="13.1">=</text><text transform="translate(104.28,28.80) scale(0.94,1)" font-size="13.1">0</text><text transform="translate(110.89,28.80) scale(0.94,1)" font-size="13.1">,</text><text transform="translate(115.56,28.80) scale(0.94,1)" font-size="13.1" font-style="italic">N</text><text transform="translate(123.74,28.80) scale(0.88,0.88)" font-size="13.1">=</text><text transform="translate(130.96,28.80) scale(0.94,1)" font-size="13.1">1</text><text transform="translate(138.59,28.80) scale(0.94,1)" font-size="13.1">5</text>
<text transform="translate(116.06,41.50) scale(0.94,1)" font-size="13.1" font-style="italic">N</text><text transform="translate(124.24,41.50) scale(0.88,0.88)" font-size="13.1">=</text><text transform="translate(130.96,41.50) scale(0.94,1)" font-size="13.1">1</text><text transform="translate(138.68,41.50) scale(0.94,1)" font-size="13.1">8</text>
<text transform="translate(79.62,54.10) scale(0.94,1)" font-size="13.1" font-style="italic">Δ</text><text transform="translate(87.82,54.10) scale(0.78,0.88)" font-size="13.1">=</text><text transform="translate(94.08,54.10) scale(0.94,1)" font-size="13.1">0</text><text transform="translate(100.89,54.10) scale(0.94,1)" font-size="13.1">.</text><text transform="translate(103.92,54.10) scale(0.94,1)" font-size="13.1">7</text><text transform="translate(110.74,54.10) scale(0.94,1)" font-size="13.1">,</text><text transform="translate(115.56,54.10) scale(0.94,1)" font-size="13.1" font-style="italic">N</text><text transform="translate(123.74,54.10) scale(0.88,0.88)" font-size="13.1">=</text><text transform="translate(130.96,54.10) scale(0.94,1)" font-size="13.1">1</text><text transform="translate(138.59,54.10) scale(0.94,1)" font-size="13.1">5</text>
<text transform="translate(116.06,66.80) scale(0.94,1)" font-size="13.1" font-style="italic">N</text><text transform="translate(124.24,66.80) scale(0.88,0.88)" font-size="13.1">=</text><text transform="translate(130.96,66.80) scale(0.94,1)" font-size="13.1">1</text><text transform="translate(138.68,66.80) scale(0.94,1)" font-size="13.1">8</text>
<text transform="translate(90.22,79.40) scale(0.94,1)" font-size="13.1" font-style="italic">Δ</text><text transform="translate(98.07,79.40) scale(0.78,0.88)" font-size="13.1">=</text><text transform="translate(104.11,79.40) scale(0.94,1)" font-size="13.1">1</text><text transform="translate(110.89,79.40) scale(0.94,1)" font-size="13.1">,</text><text transform="translate(115.56,79.40) scale(0.94,1)" font-size="13.1" font-style="italic">N</text><text transform="translate(123.74,79.40) scale(0.88,0.88)" font-size="13.1">=</text><text transform="translate(130.96,79.40) scale(0.94,1)" font-size="13.1">1</text><text transform="translate(138.59,79.40) scale(0.94,1)" font-size="13.1">5</text>
<text transform="translate(116.06,92.10) scale(0.94,1)" font-size="13.1" font-style="italic">N</text><text transform="translate(124.24,92.10) scale(0.88,0.88)" font-size="13.1">=</text><text transform="translate(130.96,92.10) scale(0.94,1)" font-size="13.1">1</text><text transform="translate(138.68,92.10) scale(0.94,1)" font-size="13.1">8</text>
<path d="M153.4,25.4H187.2" stroke="#006400" stroke-width="3.0" stroke-dasharray="1.6 0.7 1.6 3.4" fill="none"/>
<path d="M153.4,38.1H188.6" stroke="#006400" stroke-width="3.0" stroke-dasharray="2.3 1.6 0.8 1.4" fill="none"/>
<path d="M153.4,50.7H188.6M153.4,49.1v3.2M188.6,49.1v3.2" stroke="#0000ff" stroke-width="0.75" fill="none"/>
<ellipse cx="171.0" cy="50.7" rx="2.6" ry="2.75" fill="#fff" fill-opacity="0.55" stroke="#0000ff" stroke-width="0.75"/>
<path d="M153.4,63.4H188.6M153.4,61.8v3.2M188.6,61.8v3.2" stroke="#0000ff" stroke-width="0.75" fill="none"/>
<rect x="168.25" y="60.4" width="5.5" height="6.0" fill="#0000ff"/>
<path d="M153.4,76.0H188.6M153.4,74.4v3.2M188.6,74.4v3.2" stroke="#ff0000" stroke-width="0.75" fill="none"/>
<ellipse cx="171.0" cy="76.0" rx="2.6" ry="2.75" fill="#fff" fill-opacity="0.55" stroke="#ff0000" stroke-width="0.75"/>
<path d="M153.4,88.7H188.6M153.4,87.10000000000001v3.2M188.6,87.10000000000001v3.2" stroke="#ff0000" stroke-width="0.75" fill="none"/>
<rect x="168.25" y="85.7" width="5.5" height="6.0" fill="#ff0000"/>
<rect x="276.0" y="149.46" width="120.0" height="93.09" fill="#fff" stroke="none"/>
<g fill="#ff0000"><rect x="274.10" y="240.55" width="3.8" height="4.0"/><rect x="276.10" y="238.95" width="3.8" height="4.0"/><rect x="278.10" y="237.05" width="3.8" height="4.0"/><rect x="280.10" y="234.90" width="3.8" height="4.0"/><rect x="282.10" y="232.61" width="3.8" height="4.0"/><rect x="284.10" y="230.30" width="3.8" height="4.0"/><rect x="286.10" y="228.11" width="3.8" height="4.0"/><rect x="288.10" y="226.02" width="3.8" height="4.0"/><rect x="290.10" y="223.97" width="3.8" height="4.0"/><rect x="292.10" y="221.95" width="3.8" height="4.0"/><rect x="294.10" y="219.94" width="3.8" height="4.0"/><rect x="296.10" y="217.96" width="3.8" height="4.0"/><rect x="298.10" y="215.99" width="3.8" height="4.0"/><rect x="300.10" y="214.04" width="3.8" height="4.0"/><rect x="302.10" y="212.09" width="3.8" height="4.0"/><rect x="304.10" y="210.15" width="3.8" height="4.0"/><rect x="306.10" y="208.22" width="3.8" height="4.0"/><rect x="308.10" y="206.30" width="3.8" height="4.0"/><rect x="310.10" y="204.39" width="3.8" height="4.0"/><rect x="312.10" y="202.51" width="3.8" height="4.0"/><rect x="314.10" y="200.64" width="3.8" height="4.0"/><rect x="316.10" y="198.79" width="3.8" height="4.0"/><rect x="318.10" y="196.98" width="3.8" height="4.0"/><rect x="320.10" y="195.18" width="3.8" height="4.0"/><rect x="322.10" y="193.39" width="3.8" height="4.0"/><rect x="324.10" y="191.62" width="3.8" height="4.0"/><rect x="326.10" y="189.86" width="3.8" height="4.0"/><rect x="328.10" y="188.14" width="3.8" height="4.0"/><rect x="330.10" y="186.45" width="3.8" height="4.0"/><rect x="332.10" y="184.82" width="3.8" height="4.0"/><rect x="334.10" y="183.23" width="3.8" height="4.0"/><rect x="336.10" y="181.70" width="3.8" height="4.0"/><rect x="338.10" y="180.20" width="3.8" height="4.0"/><rect x="340.10" y="178.73" width="3.8" height="4.0"/><rect x="342.10" y="177.30" width="3.8" height="4.0"/><rect x="344.10" y="175.90" width="3.8" height="4.0"/><rect x="346.10" y="174.54" width="3.8" height="4.0"/><rect x="348.10" y="173.22" width="3.8" height="4.0"/><rect x="350.10" y="171.95" width="3.8" height="4.0"/><rect x="352.10" y="170.71" width="3.8" height="4.0"/><rect x="354.10" y="169.48" width="3.8" height="4.0"/><rect x="356.10" y="168.28" width="3.8" height="4.0"/><rect x="358.10" y="167.12" width="3.8" height="4.0"/><rect x="360.10" y="165.99" width="3.8" height="4.0"/><rect x="362.10" y="164.91" width="3.8" height="4.0"/><rect x="364.10" y="163.89" width="3.8" height="4.0"/><rect x="366.10" y="162.93" width="3.8" height="4.0"/><rect x="368.10" y="162.03" width="3.8" height="4.0"/><rect x="370.10" y="161.16" width="3.8" height="4.0"/><rect x="372.10" y="160.32" width="3.8" height="4.0"/><rect x="374.10" y="159.51" width="3.8" height="4.0"/><rect x="376.10" y="158.75" width="3.8" height="4.0"/><rect x="378.10" y="158.03" width="3.8" height="4.0"/><rect x="380.10" y="157.36" width="3.8" height="4.0"/><rect x="382.10" y="156.75" width="3.8" height="4.0"/><rect x="384.10" y="156.18" width="3.8" height="4.0"/><rect x="386.10" y="155.64" width="3.8" height="4.0"/><rect x="388.10" y="155.15" width="3.8" height="4.0"/><rect x="390.10" y="154.69" width="3.8" height="4.0"/><rect x="392.10" y="154.27" width="3.8" height="4.0"/><rect x="394.10" y="153.90" width="3.8" height="4.0"/></g>
<g stroke="#000" stroke-width="1" fill="none">
<rect x="276.0" y="149.46" width="120.0" height="93.09"/>
<path d="M296.00,242.55v-2M296.00,149.46v2M316.00,242.55v-4M316.00,149.46v4M336.00,242.55v-2M336.00,149.46v2M356.00,242.55v-4M356.00,149.46v4M376.00,242.55v-2M376.00,149.46v2M276.0,227.04h2M396.0,227.04h-2M276.0,211.52h2M396.0,211.52h-2M276.0,196.00h2M396.0,196.00h-2M276.0,180.49h4M396.0,180.49h-4M276.0,164.98h2M396.0,164.98h-2" stroke-width="0.7"/>
</g>
<text transform="translate(277.40,256.70) scale(1.0,1)" font-size="12.0" text-anchor="middle">0</text>
<text transform="translate(317.40,256.70) scale(1.0,1)" font-size="12.0" text-anchor="middle">0.2</text>
<text transform="translate(357.40,256.70) scale(1.0,1)" font-size="12.0" text-anchor="middle">0.4</text>
<text transform="translate(397.40,256.70) scale(1.0,1)" font-size="12.0" text-anchor="middle">0.6</text>
<text transform="translate(271.60,247.15) scale(1.0,1)" font-size="12.0" text-anchor="end">0</text>
<text transform="translate(271.70,184.89) scale(1.0,1)" font-size="12.0" text-anchor="end">0.2</text>
<text transform="translate(288.71,169.20) scale(1.0,1)" font-size="12.0" font-style="italic">Δ</text><text transform="translate(299.80,169.20) scale(1.0,0.88)" font-size="12.0">=</text><text transform="translate(305.95,169.20) scale(1.0,1)" font-size="12.0">1</text>
<text transform="translate(288.88,186.40) scale(1.0,1)" font-size="12.0" font-style="italic">N</text><text transform="translate(300.70,186.40) scale(1.0,0.88)" font-size="12.0">=</text><text transform="translate(306.35,186.40) scale(1.0,1)" font-size="12.0">1</text><text transform="translate(313.86,186.40) scale(1.0,1)" font-size="12.0">8</text>
<text transform="translate(322.77,211.50) scale(1,1)" font-size="10.7" font-style="italic">H</text><text transform="translate(329.80,211.50) scale(0.85,0.88)" font-size="10.7">=</text><text transform="translate(335.27,211.50) scale(1,1)" font-size="10.7">0</text>
<text transform="translate(308.97,224.20) scale(1,1)" font-size="10.7" font-style="italic">H</text><text transform="translate(315.75,224.20) scale(0.85,0.88)" font-size="10.7">=</text><text transform="translate(320.87,224.20) scale(1,1)" font-size="10.7">0</text><text transform="translate(326.71,224.20) scale(1,1)" font-size="10.7">.</text><text transform="translate(329.47,224.20) scale(1,1)" font-size="10.7">0</text><text transform="translate(335.49,224.20) scale(1,1)" font-size="10.7">5</text>
<text transform="translate(314.67,236.70) scale(1,1)" font-size="10.7" font-style="italic">H</text><text transform="translate(321.45,236.70) scale(0.85,0.88)" font-size="10.7">=</text><text transform="translate(326.62,236.70) scale(1,1)" font-size="10.7">0</text><text transform="translate(332.51,236.70) scale(1,1)" font-size="10.7">.</text><text transform="translate(335.18,236.70) scale(1,1)" font-size="10.7">1</text>
<path d="M345.4,207.8H380.5M345.4,206.20000000000002v3.2M380.5,206.20000000000002v3.2" stroke="#006400" stroke-width="0.6" fill="none" opacity="0.8"/>
<path d="M345.4,220.3H380.5M345.4,218.70000000000002v3.2M380.5,218.70000000000002v3.2" stroke="#0000ff" stroke-width="0.6" fill="none" opacity="0.8"/>
<path d="M345.4,232.8H380.5M345.4,231.20000000000002v3.2M380.5,231.20000000000002v3.2" stroke="#ff0000" stroke-width="0.6" fill="none" opacity="0.8"/>
<circle cx="363.0" cy="207.8" r="1.8" fill="#006400"/>
<path d="M361.2,221.60000000000002h3.6l-1.8,-3z" fill="#0000ff"/>
<rect x="361.3" y="231.10000000000002" width="3.4" height="3.4" fill="#ff0000"/>
</g></svg>
</body></html>
